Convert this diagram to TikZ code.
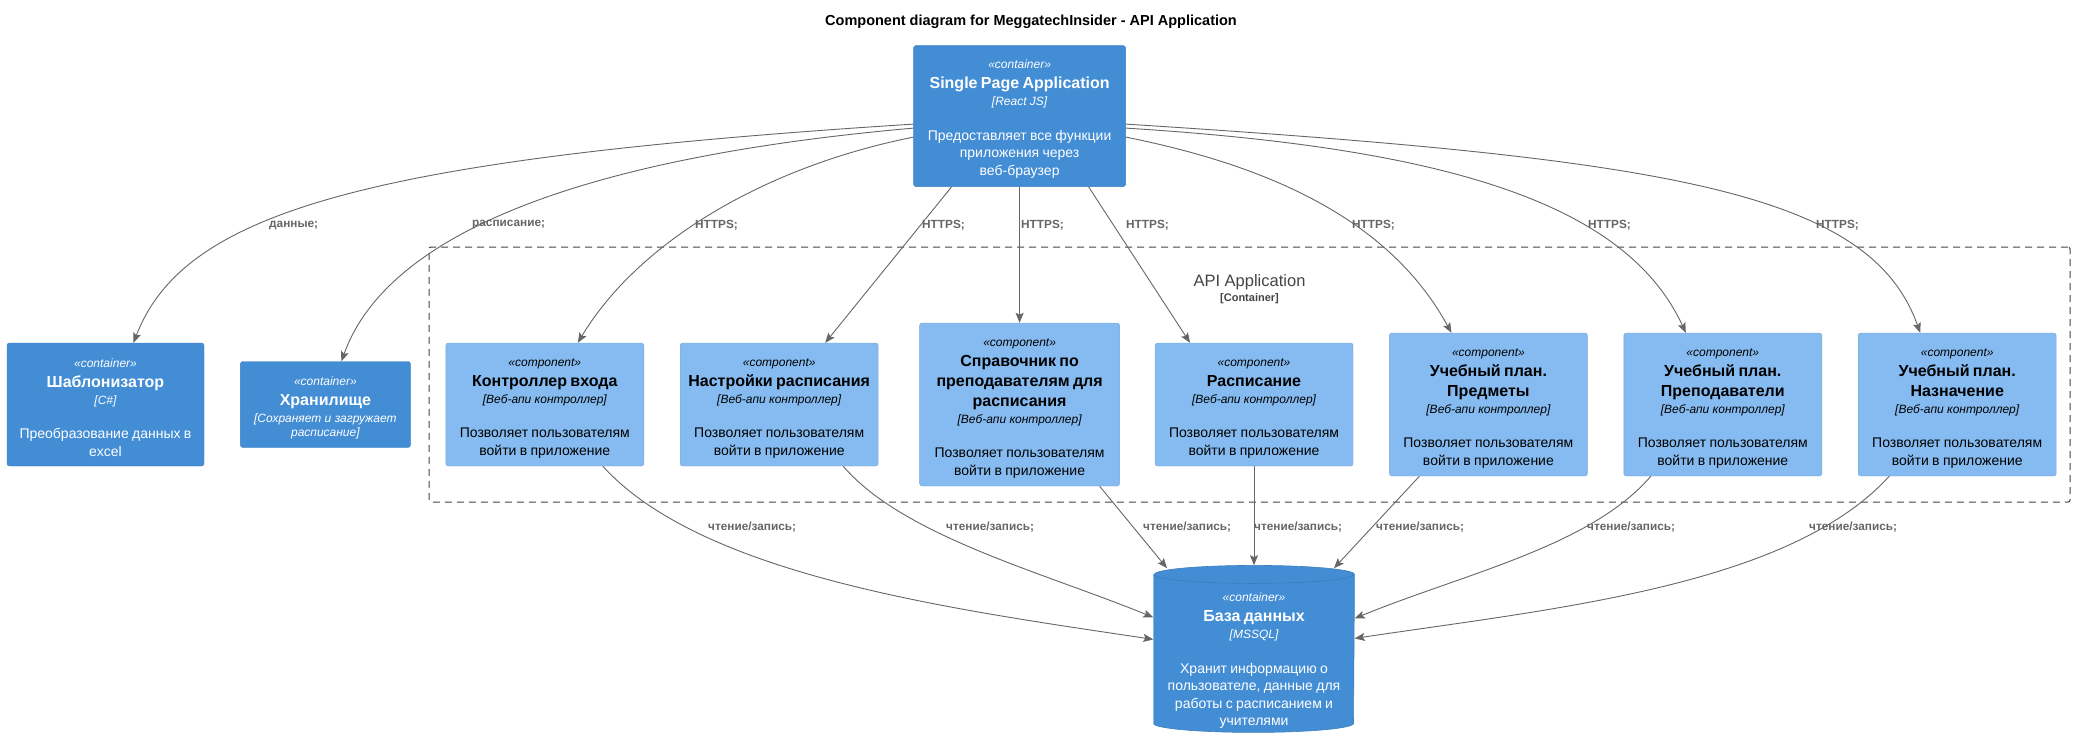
\documentclass[tikz,border=0pt]{standalone}
\usepackage{fontspec}
\setmainfont{Liberation Sans}
\usepackage{tikz}
\usetikzlibrary{positioning, arrows.meta}

\definecolor{contblue}{HTML}{438DD5}
\definecolor{contline}{HTML}{3C7FC0}
\definecolor{compblue}{HTML}{85BBF0}
\definecolor{compline}{HTML}{78A8D8}
\definecolor{arrowgray}{HTML}{666666}
\definecolor{bordergray}{HTML}{444444}

\newcommand{\stereofont}{\fontsize{12}{14}\selectfont\itshape}
\newcommand{\namefont}{\fontsize{16}{20}\selectfont\bfseries}
\newcommand{\techfont}{\fontsize{12}{14}\selectfont\itshape}
\newcommand{\descfont}{\fontsize{14}{17.5}\selectfont}
% [top strut], stereotype, name, technology, description
\newcommand{\elem}[5][15pt]{{\stereofont\rule{0pt}{#1}«#2»\par}{\namefont #3\par}\vskip3pt{\techfont [#4]\par}\vskip17pt{\descfont #5\par}}

\tikzset{
  container/.style={rectangle, rounded corners=2.5pt, fill=contblue, draw=contline, text=white,
    align=center, inner xsep=2pt, inner ysep=0pt},
  component/.style={rectangle, rounded corners=2.5pt, fill=compblue, draw=compline, text=black,
    align=center, inner xsep=2pt, inner ysep=0pt, minimum width=198pt, text width=194pt, minimum height=123pt},
  tall/.style={minimum height=143pt},
  database/.style={rectangle, text=white, align=center, inner xsep=2pt, inner ysep=0pt,
    path picture={
      \fill[contblue, draw=contline, line width=0.6pt] ([yshift=-9pt]path picture bounding box.north west)
        -- ([yshift=9pt]path picture bounding box.south west)
        arc[start angle=180, end angle=360, x radius=100pt, y radius=9pt]
        -- ([yshift=-9pt]path picture bounding box.north east)
        arc[start angle=0, end angle=180, x radius=100pt, y radius=9pt] -- cycle;
      \draw[contline, line width=0.7pt] ([yshift=-9pt]path picture bounding box.north west)
        arc[start angle=180, end angle=360, x radius=100pt, y radius=9pt];
    }},
  boundary/.style={rectangle, draw=bordergray, dash pattern=on 7pt off 5pt, line width=1pt, rounded corners=2pt},
  rel/.style={draw=arrowgray, line width=0.9pt, -{Stealth[length=10pt, width=8pt, inset=2pt]}},
  rellabel/.style={text=arrowgray, font=\fontsize{11.8}{14}\selectfont\bfseries, anchor=west, inner sep=0pt},
}

\begin{document}
\begin{tikzpicture}[x=1pt, y=-1pt]
  \useasboundingbox (0,0) rectangle (2075,748);
  \fill[white] (0,0) rectangle (2075,748);

  \node[font=\fontsize{14.5}{17}\selectfont\bfseries] (title) at (1031,22)
    {Component diagram for MeggatechInsider - API Application};

  % API Application boundary
  \node[boundary, minimum width=1641pt, minimum height=255pt] (api) at (1249.5,374.5) {};
  \node[text=bordergray, font=\fontsize{16.5}{19}\selectfont, inner sep=0pt] (apiname) at (1249.5,282) {API Application};
  \node[text=bordergray, font=\fontsize{11}{13}\selectfont\bfseries, inner sep=0pt] (apitype) at (1249.5,299) {[Container]};

  % row of containers and components
  \node[container, minimum width=197pt, text width=193pt, minimum height=123pt] (shab) at (105.5,404.5)
    {\elem{container}{Шаблонизатор}{C\#}{Преобразование данных в\\excel}};
  \node[container, minimum width=170pt, text width=166pt, minimum height=86pt, right=36pt of shab] (store)
    {{\stereofont\rule{0pt}{15pt}«container»\par}{\namefont Хранилище\par}\vskip3pt{\techfont [Сохраняет и загружает\\расписание]\par}};
  \node[component, right=35pt of store] (login)
    {\elem{component}{Контроллер входа}{Веб-апи контроллер}{Позволяет пользователям\\войти в приложение}};
  \node[component, right=36pt of login] (sett)
    {\elem{component}{Настройки расписания}{Веб-апи контроллер}{Позволяет пользователям\\войти в приложение}};
  \node[component, minimum width=200pt, text width=196pt, minimum height=163pt, right=41pt of sett] (ref)
    {\elem{component}{Справочник по\\преподавателям для\\расписания}{Веб-апи контроллер}{Позволяет пользователям\\войти в приложение}};
  \node[component, right=35pt of ref] (sched)
    {\elem{component}{Расписание}{Веб-апи контроллер}{Позволяет пользователям\\войти в приложение}};
  \node[component, tall, right=36pt of sched] (subj)
    {\elem{component}{Учебный план.\\Предметы}{Веб-апи контроллер}{Позволяет пользователям\\войти в приложение}};
  \node[component, tall, right=36pt of subj] (teach)
    {\elem{component}{Учебный план.\\Преподаватели}{Веб-апи контроллер}{Позволяет пользователям\\войти в приложение}};
  \node[component, tall, right=36pt of teach] (assign)
    {\elem{component}{Учебный план.\\Назначение}{Веб-апи контроллер}{Позволяет пользователям\\войти в приложение}};

  \node[container, minimum width=212pt, text width=208pt, minimum height=141pt, above=136pt of ref] (spa)
    {\elem{container}{Single Page Application}{React JS}{Предоставляет все функции\\приложения через\\веб-браузер}};
  \node[database, minimum width=201pt, text width=197pt, minimum height=167pt, below=99pt of sched] (db)
    {\elem[33pt]{container}{База данных}{MSSQL}{Хранит информацию о\\пользователе, данные для\\работы с расписанием и\\учителями}};

  % from the single page application
  \draw[rel] ([yshift=-8pt]spa.west) .. controls +(-550,35) and +(50,-130) .. ([xshift=28pt]shab.north);
  \draw[rel] ([yshift=-12pt]spa.west) .. controls +(-340,30) and +(45,-125) .. ([xshift=16pt]store.north);
  \draw[rel] ([yshift=-21pt]spa.west) .. controls +(-150,30) and +(60,-100) .. ([xshift=33pt]login.north);
  \draw[rel] ([xshift=-68pt]spa.south) -- ([xshift=46pt]sett.north);
  \draw[rel] (spa.south) -- (ref.north);
  \draw[rel] ([xshift=69pt]spa.south) -- ([xshift=-64pt]sched.north);
  \draw[rel] ([yshift=-21pt]spa.east) .. controls +(150,30) and +(-60,-110) .. ([xshift=-37pt]subj.north);
  \draw[rel] ([yshift=-12pt]spa.east) .. controls +(320,20) and +(-60,-130) .. ([xshift=-37pt]teach.north);
  \draw[rel] ([yshift=-8pt]spa.east) .. controls +(550,35) and +(-50,-140) .. ([xshift=-37pt]assign.north);

  \node[rellabel] (L1) at (269,225) {данные;};
  \node[rellabel] (L2) at (472,225) {расписание;};
  \node[rellabel] (L3) at (695,225) {HTTPS;};
  \node[rellabel] (L4) at (922,225) {HTTPS;};
  \node[rellabel] (L5) at (1021,225) {HTTPS;};
  \node[rellabel] (L6) at (1126,225) {HTTPS;};
  \node[rellabel] (L7) at (1352,225) {HTTPS;};
  \node[rellabel] (L8) at (1588,225) {HTTPS;};
  \node[rellabel] (L9) at (1816,225) {HTTPS;};

  % to the database
  \draw[rel] ([xshift=58pt]login.south) .. controls +(100,110) and +(-200,-30) .. ([yshift=9.5pt]db.west);
  \draw[rel] ([xshift=64pt]sett.south) .. controls +(60,70) and +(-110,-45) .. ([yshift=31.5pt]db.west);
  \draw[rel] ([xshift=80pt]ref.south) -- ([xshift=-87pt, yshift=-3pt]db.north);
  \draw[rel] (sched.south) -- (db.north);
  \draw[rel] ([xshift=-69pt]subj.south) -- ([xshift=80pt, yshift=-3pt]db.north);
  \draw[rel] ([xshift=-72pt]teach.south) .. controls +(-60,70) and +(110,-45) .. ([yshift=30.5pt]db.east);
  \draw[rel] ([xshift=-68pt]assign.south) .. controls +(-100,110) and +(200,-30) .. ([yshift=10.5pt]db.east);

  \node[rellabel] (R1) at (708,527) {чтение/запись;};
  \node[rellabel] (R2) at (946,527) {чтение/запись;};
  \node[rellabel] (R3) at (1143,527) {чтение/запись;};
  \node[rellabel] (R4) at (1254,527) {чтение/запись;};
  \node[rellabel] (R5) at (1376,527) {чтение/запись;};
  \node[rellabel] (R6) at (1587,527) {чтение/запись;};
  \node[rellabel] (R7) at (1809,527) {чтение/запись;};
\end{tikzpicture}
\end{document}
